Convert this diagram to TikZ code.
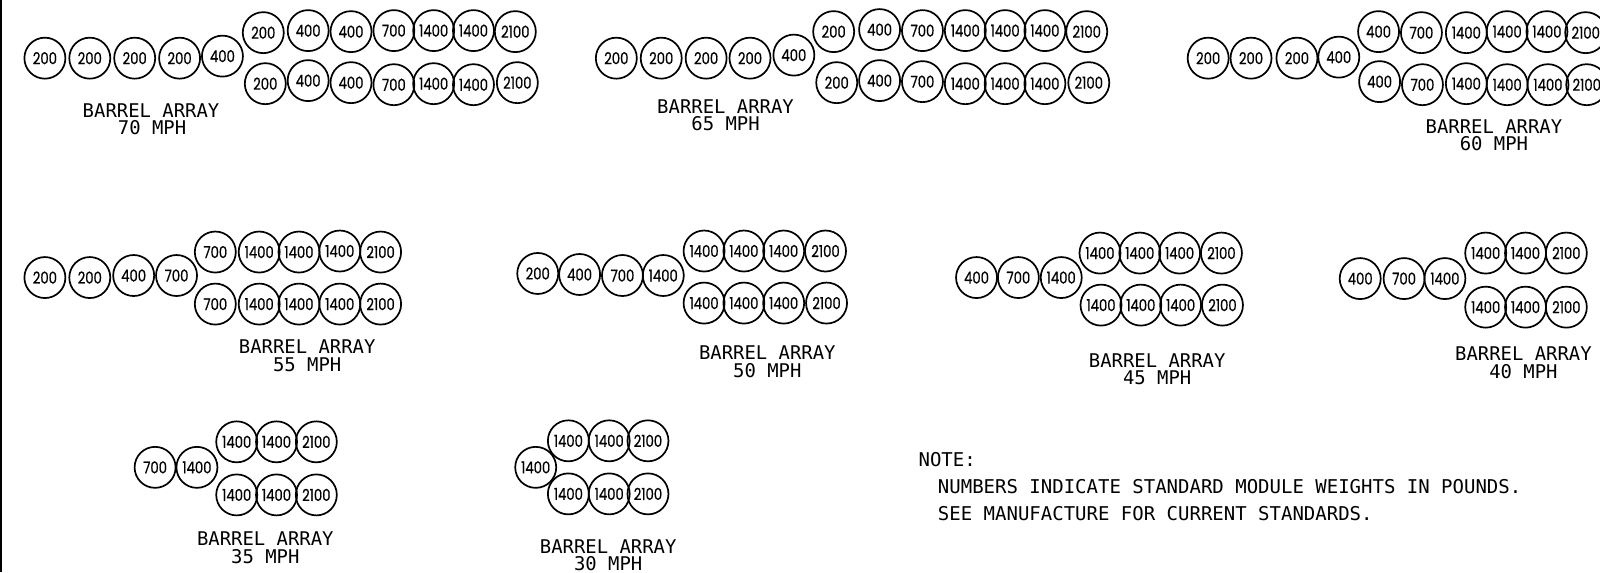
\documentclass[tikz,border=0pt]{standalone}
\usepackage{fontspec}
\setmainfont[FakeStretch=0.8,FakeBold=0.6]{Poppins}
\newfontfamily\labelfont{DejaVu Sans Mono}
\tikzset{
  barrel/.style={draw=black,circle,line width=1.7pt,minimum size=41pt,inner sep=0pt,font=\fontsize{16.5}{16.5}\selectfont,text=black},
  caption/.style={font=\labelfont\fontsize{18.9}{18.9}\selectfont,inner sep=0pt,text=black},
  notetext/.style={font=\labelfont\fontsize{19}{19}\selectfont,inner sep=0pt,anchor=west,text=black}
}
\newcommand{\barrelset}[2]{%
  \foreach \bx/\by/\bt [count=\bi] in {#2} {
    \node[barrel] (#1-\bi) at (\bx,\by) {\bt};
  }%
}
\begin{document}
\begin{tikzpicture}[x=1.0204pt,y=-1.0204pt]
\useasboundingbox (0,0) rectangle (1568,560.56);
\coordinate (edgetop) at (1,0);
\coordinate (edgebot) at (1,560.56);
\draw[line width=2.5pt,black] (edgetop) -- (edgebot);
% 70 MPH
\barrelset{s70}{44/57/200,88/57/200,132/57/200,176/57/200,218/55/400,
258/32/200,302/30/400,344/31/400,386/30/700,425/30/1400,464/30/1400,505/31/2100,
260/82/200,302/79/400,344/81/400,386/83/700,425/82/1400,464/83/1400,507/81/2100}
\node[caption] (c70a) at (148,108) {BARREL ARRAY};
\node[caption] (c70b) at (149,125) {70 MPH};
% 65 MPH
\barrelset{s65}{604/57/200,648/57/200,692/57/200,735/57/200,778/54/400,
817/31/200,862/29/400,904/30/700,946/30/1400,985/30/1400,1024/30/1400,1065/31/2100,
820/81/200,862/79/400,904/80/700,946/82/1400,985/82/1400,1024/82/1400,1067/81/2100}
\node[caption] (c65a) at (711,104) {BARREL ARRAY};
\node[caption] (c65b) at (711,121) {65 MPH};
% 60 MPH
\barrelset{s60}{1184/57/200,1226/57/200,1271/57/200,1312/56/400,
1351/31/400,1393/32/700,1437/32/1400,1477/31/1400,1516/31/1400,1554/32/2100,
1352/80/400,1394/83/700,1437/82/1400,1477/83/1400,1517/83/1400,1555/83/2100}
\node[caption] (c60a) at (1464,124) {BARREL ARRAY};
\node[caption] (c60b) at (1464,141) {60 MPH};
% 55 MPH
\barrelset{s55}{44/272/200,88/272/200,131/270/400,173/270/700,
211/247/700,254/247/1400,293/247/1400,333/246/1400,373/247/2100,
211/298/700,254/298/1400,293/298/1400,333/298/1400,373/298/2100}
\node[caption] (c55a) at (301,340) {BARREL ARRAY};
\node[caption] (c55b) at (301,357) {55 MPH};
% 50 MPH
\barrelset{s50}{527/268/200,568/269/400,610/270/700,650/270/1400,
690/246/1400,729/246/1400,768/246/1400,809/246/2100,
690/297/1400,729/297/1400,768/297/1400,810/297/2100}
\node[caption] (c50a) at (752,346) {BARREL ARRAY};
\node[caption] (c50b) at (752,363) {50 MPH};
% 45 MPH
\barrelset{s45}{957/272/400,998/272/700,1040/272/1400,
1078/248/1400,1117/248/1400,1156/248/1400,1197/248/2100,
1079/299/1400,1118/299/1400,1157/299/1400,1198/299/2100}
\node[caption] (c45a) at (1134,353) {BARREL ARRAY};
\node[caption] (c45b) at (1134,370) {45 MPH};
% 40 MPH
\barrelset{s40}{1333/273/400,1376/273/700,1416/273/1400,
1456/248/1400,1495/248/1400,1535/248/2100,
1456/301/1400,1495/301/1400,1535/301/2100}
\node[caption] (c40a) at (1493,347) {BARREL ARRAY};
\node[caption] (c40b) at (1493,364) {40 MPH};
% 35 MPH
\barrelset{s35}{152/458/700,193/458/1400,
232/433/1400,271/433/1400,310/433/2100,
232/485/1400,271/485/1400,310/485/2100}
\node[caption] (c35a) at (260,528) {BARREL ARRAY};
\node[caption] (c35b) at (260,545) {35 MPH};
% 30 MPH
\barrelset{s30}{525/458/1400,
557/432/1400,597/432/1400,635/432/2100,
557/484/1400,597/484/1400,635/484/2100}
\node[caption] (c30a) at (596,536) {BARREL ARRAY};
\node[caption] (c30b) at (596,552) {30 MPH};
% note
\node[notetext] (note0) at (900,450) {NOTE:};
\node[notetext] (note1) at (919,477) {NUMBERS INDICATE STANDARD MODULE WEIGHTS IN POUNDS.};
\node[notetext] (note2) at (919,503) {SEE MANUFACTURE FOR CURRENT STANDARDS.};
\end{tikzpicture}
\end{document}
